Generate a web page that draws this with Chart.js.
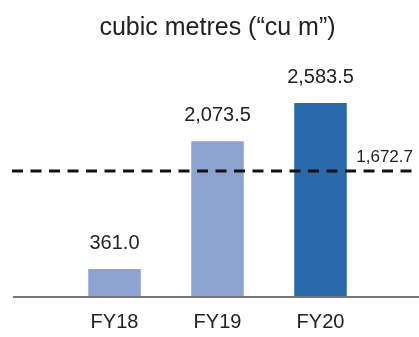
<!DOCTYPE html>
<html>
<head>
<meta charset="utf-8">
<script src="https://cdn.jsdelivr.net/npm/chart.js@4"></script>
<style>
  html, body { margin: 0; padding: 0; background: #fff; }
  #wrap { width: 419px; height: 337px; }
</style>
</head>
<body>
<div id="wrap"><canvas id="waterChart"></canvas></div>
<script>
/* ------------------------------
   DATA
--------------------------------*/
const years = ["FY18", "FY19", "FY20"];
const volumes = [361.0, 2073.5, 2583.5];
const average = 1672.7;
const barColors = ["#8FA3D0", "#8FA3D0", "#2A69AB"];

const FONT = "'Liberation Sans', Arial, sans-serif";
const fmt = v => v.toLocaleString("en-US", { minimumFractionDigits: 1, maximumFractionDigits: 1 });

/* ------------------------------
   EXTRA DRAWING: labels, baseline, average line
--------------------------------*/
const extras = {
    id: "extras",
    afterDatasetsDraw(chart) {
        const ctx = chart.ctx;
        const area = chart.chartArea;
        const x = chart.scales.x;
        const y = chart.scales.y;

        // baseline
        ctx.save();
        ctx.strokeStyle = "#777";
        ctx.lineWidth = 2;
        ctx.beginPath();
        ctx.moveTo(13, area.bottom + 1);
        ctx.lineTo(419, area.bottom + 1);
        ctx.stroke();

        // category labels
        ctx.fillStyle = "#222";
        ctx.font = "20px " + FONT;
        ctx.textAlign = "center";
        ctx.textBaseline = "middle";
        years.forEach((yr, i) => {
            ctx.fillText(yr, x.getPixelForValue(i), area.bottom + 26);
        });

        // value labels
        ctx.textBaseline = "alphabetic";
        chart.getDatasetMeta(0).data.forEach((bar, i) => {
            ctx.fillText(fmt(volumes[i]), bar.x, bar.y - 20);
        });

        // average dashed line
        const ay = y.getPixelForValue(average);
        ctx.strokeStyle = "#111";
        ctx.lineWidth = 3;
        ctx.setLineDash([11, 7.5]);
        ctx.beginPath();
        ctx.moveTo(12, ay);
        ctx.lineTo(419, ay);
        ctx.stroke();
        ctx.setLineDash([]);

        ctx.font = "17px " + FONT;
        ctx.textAlign = "right";
        ctx.fillText(fmt(average), 413, ay - 9);
        ctx.restore();
    }
};

/* ------------------------------
   CHART
--------------------------------*/
new Chart(document.getElementById("waterChart"), {
    type: "bar",
    data: {
        labels: years,
        datasets: [{
            data: volumes,
            backgroundColor: barColors,
            barPercentage: 0.51,
            categoryPercentage: 1
        }]
    },
    options: {
        responsive: true,
        maintainAspectRatio: false,
        animation: false,
        layout: { padding: { left: 63, right: 47, top: 0, bottom: 41 } },
        plugins: {
            legend: { display: false },
            tooltip: { enabled: false },
            title: {
                display: true,
                fullSize: false,
                text: "cubic metres (\u201ccu m\u201d)",
                color: "#222",
                font: { family: FONT, size: 25, weight: "normal" },
                padding: { top: 13, bottom: 29 }
            }
        },
        scales: {
            x: { display: false },
            y: { display: false, min: 0, max: 3000 }
        }
    },
    plugins: [extras]
});
</script>
</body>
</html>
